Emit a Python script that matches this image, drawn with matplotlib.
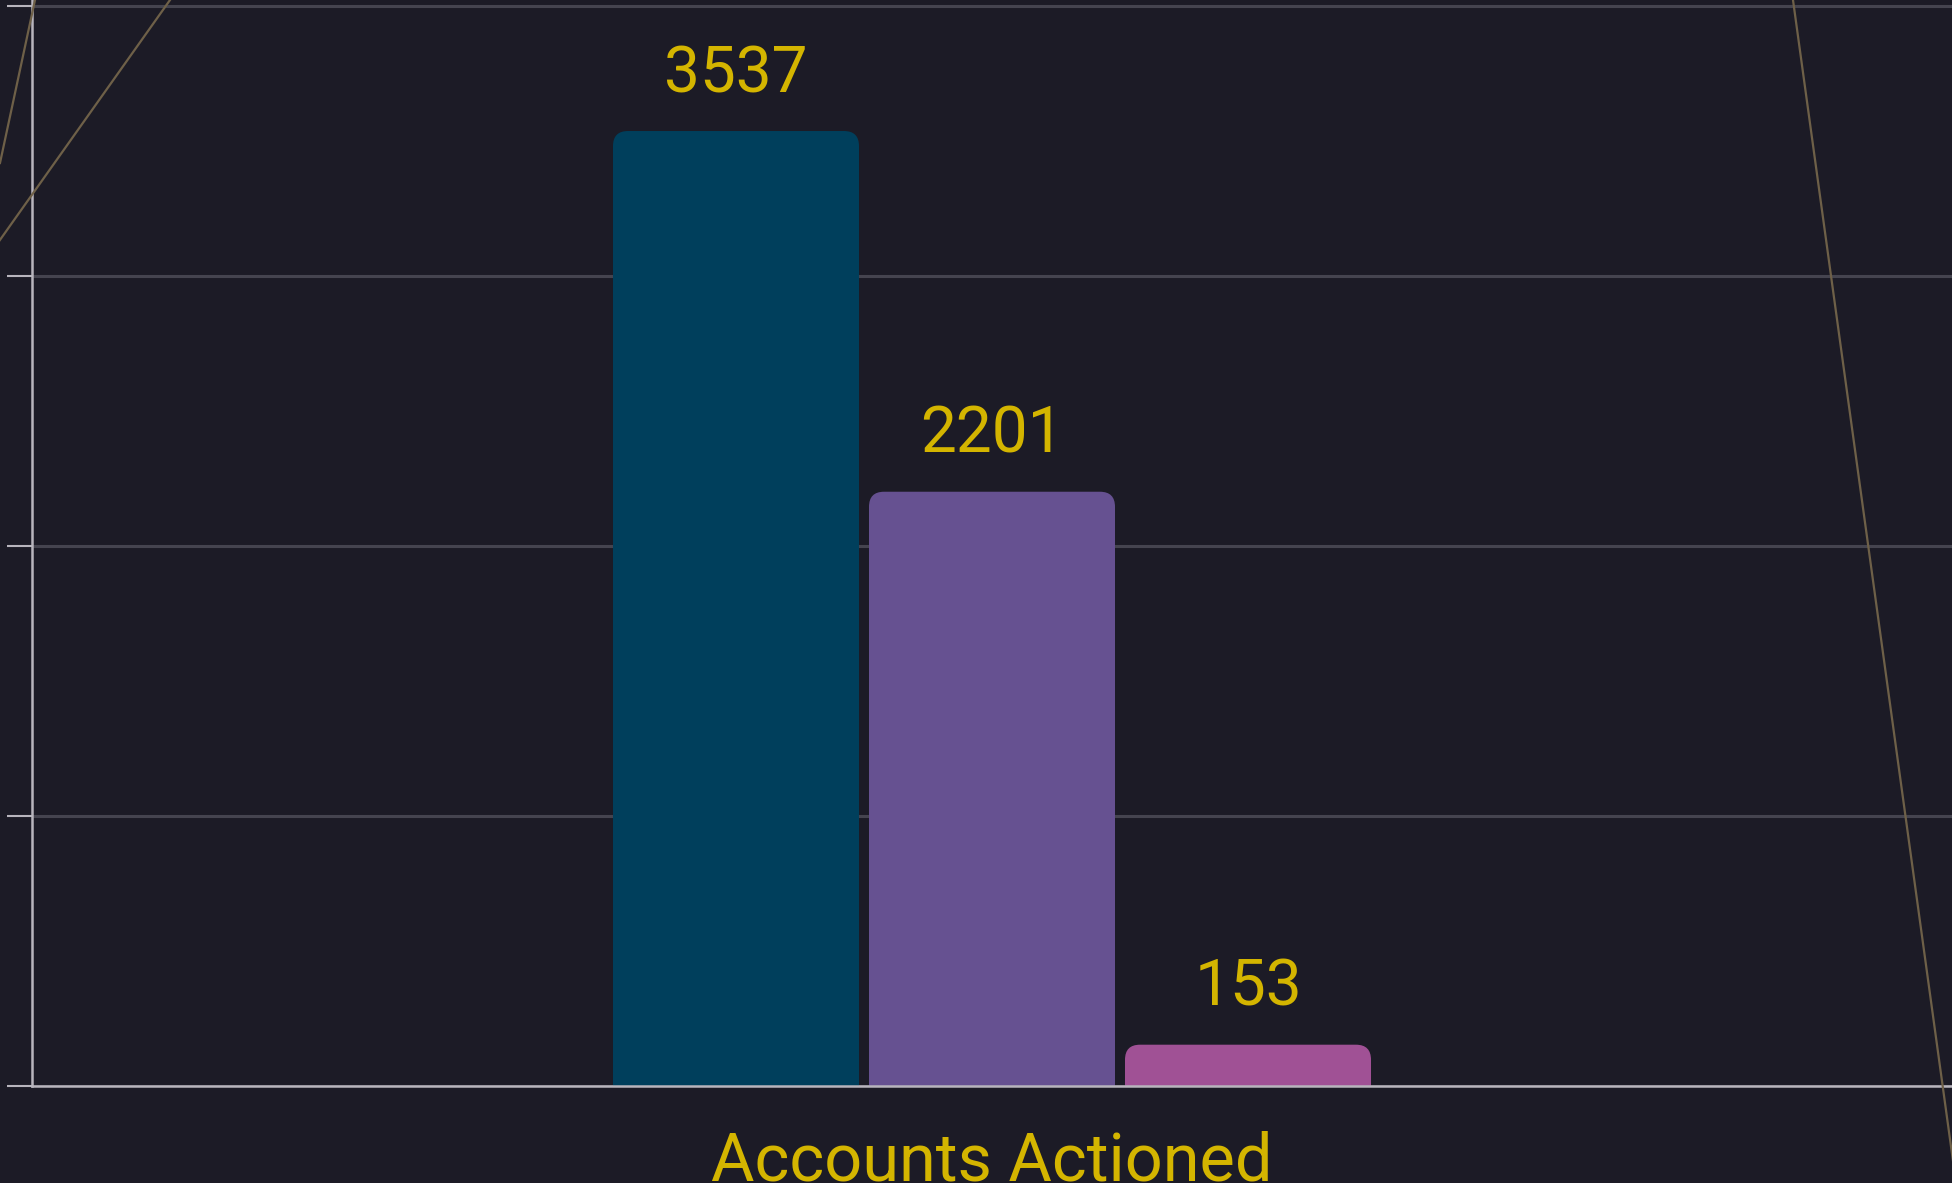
import matplotlib
matplotlib.use("Agg")
import matplotlib.pyplot as plt
from matplotlib.patches import FancyBboxPatch
from matplotlib.lines import Line2D

categories = ["Accounts Actioned"]
series_names = ["Series A", "Series B", "Series C"]
values = [3537, 2201, 153]
colors = ["#003f5c", "#665191", "#a05195"]
yticks = [0, 1000, 2000, 3000, 4000]

BG = "#1c1b26"
GOLD = "#d4b500"
plt.rcParams['font.family'] = ['Roboto', 'DejaVu Sans']

W, H = 1952, 1183
fig = plt.figure(figsize=(W / 100, H / 100), dpi=100, facecolor=BG)
ax = fig.add_axes([32 / W, (H - 1086) / H, 1 - 32 / W, 1086 / H])
ax.set_facecolor(BG)

group = 0.8
pitch = group / len(values)
bw = pitch - 0.0104
ax.set_xlim(-1, 1)
ymax = 4000 + 6 / 270 * 1000
ax.set_ylim(0, ymax)

# rounding of bar tops
px_x = (W - 32) / 2.0
radius_px = 15
rx = radius_px / px_x
ry = radius_px * (ymax / 1080)
aspect = ry / rx

for i, (v, c) in enumerate(zip(values, colors)):
    xc = (i - (len(values) - 1) / 2) * pitch
    patch = FancyBboxPatch((xc - bw / 2, -ry * 2), bw, v + ry * 2,
                           boxstyle=f"round,pad=0,rounding_size={rx}",
                           mutation_aspect=aspect,
                           facecolor=c, edgecolor="none", zorder=3)
    ax.add_patch(patch)
    ax.annotate(str(v), (xc, v), xytext=(0, 28), textcoords="offset points",
                ha="center", va="baseline", color=GOLD, fontsize=46, zorder=5)

ax.set_yticks(yticks)
ax.set_yticklabels([])
ax.tick_params(axis="y", length=18, width=1.5, color="#b8b5bd")
ax.set_xticks([0])
ax.set_xticklabels(categories, fontsize=48, color=GOLD)
ax.tick_params(axis="x", length=0, pad=32)
ax.grid(axis="y", color="#45444f", linewidth=2.2, zorder=0)
ax.set_axisbelow(True)
for s in ["top", "right"]:
    ax.spines[s].set_visible(False)
for s in ["left", "bottom"]:
    ax.spines[s].set_color("#b8b5bd")
    ax.spines[s].set_linewidth(1.8)
    ax.spines[s].set_zorder(4)

# decorative background lines
lc = "#6e6048"
for (x0, y0), (x1, y1) in [((35, 0), (0, 163)), ((170, 0), (-10, 254)), ((1793, 0), (1957, 1190))]:
    fig.add_artist(Line2D([x0 / W, x1 / W], [1 - y0 / H, 1 - y1 / H],
                          transform=fig.transFigure, color=lc, linewidth=1.6, zorder=1))

fig.savefig("out.png", dpi=100, facecolor=BG)
